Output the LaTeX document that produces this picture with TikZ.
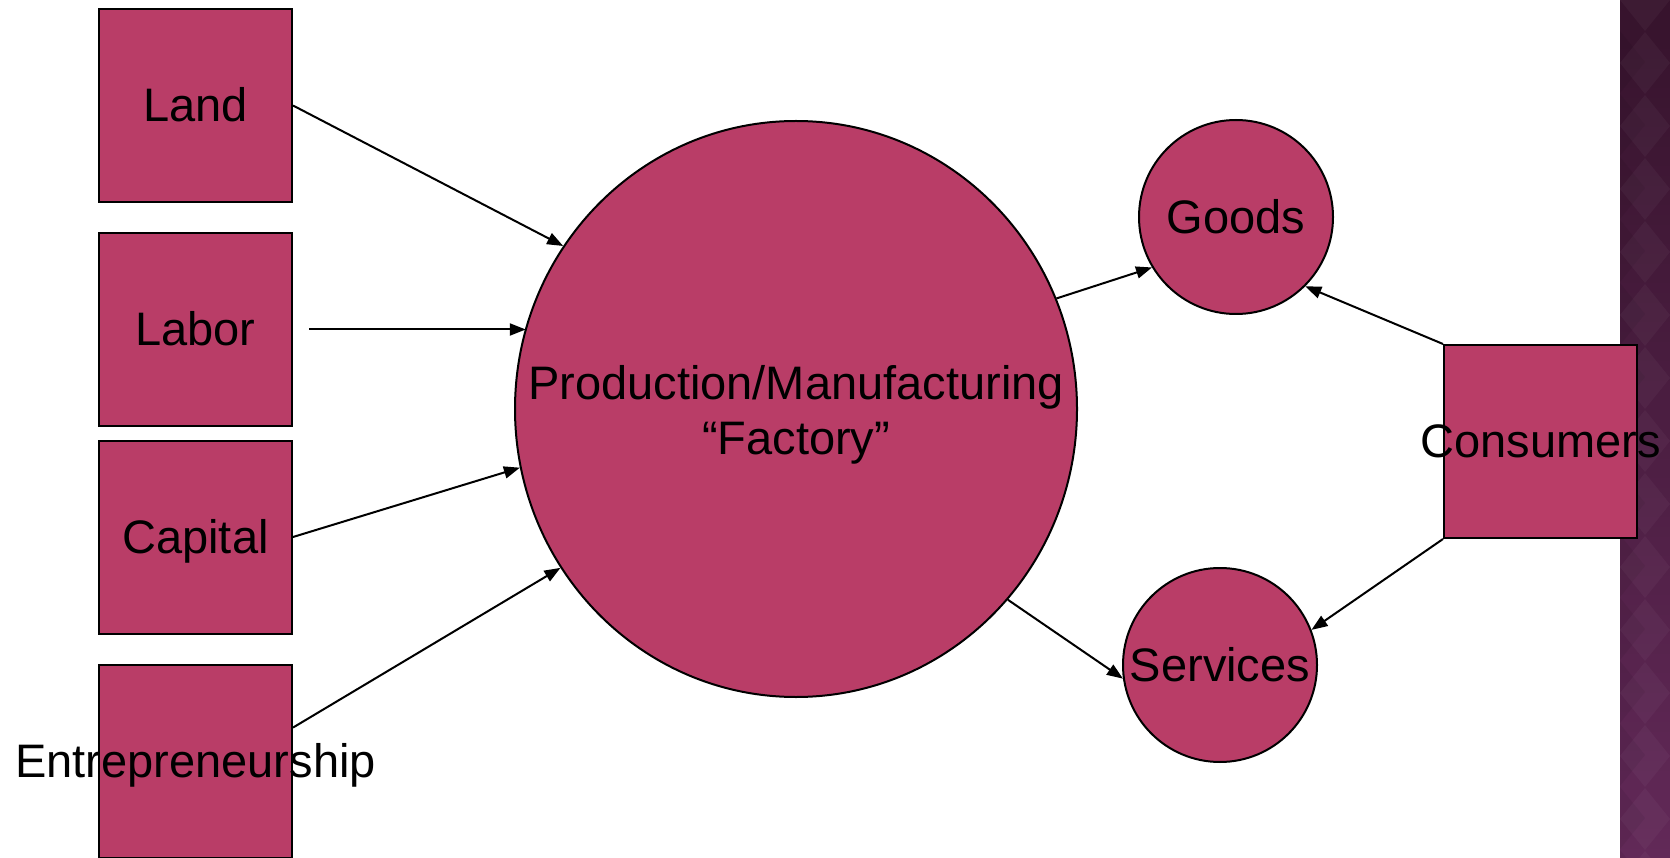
\documentclass[tikz,border=0pt]{standalone}
\usepackage{fontspec}
\setmainfont{Liberation Sans}
\usetikzlibrary{shapes.geometric,arrows.meta,calc}
\definecolor{boxfill}{RGB}{185,61,103}
\definecolor{stripetop}{RGB}{54,19,44}
\definecolor{stripebot}{RGB}{98,41,88}
\begin{document}
\begin{tikzpicture}[x=1pt,y=-1pt,
  txt/.style={font=\fontsize{47}{54}\selectfont, inner sep=0pt,
              text height=42.5pt, text depth=10pt},
  factor/.style={rectangle, draw=black, line width=2pt, fill=boxfill,
                 minimum width=193pt, minimum height=193pt, inner sep=0pt},
  disc/.style={circle, draw=black, line width=2pt, fill=boxfill,
               minimum size=194pt, inner sep=0pt},
  flow/.style={draw=black, line width=2pt, -{Triangle[length=16pt,width=12pt]}}]

\useasboundingbox (0,0) rectangle (1670,858);
\fill[white] (0,0) rectangle (1670,858);

% decorative band on the right edge
\shade[top color=stripetop, bottom color=stripebot] (1620,0) rectangle (1670,858);
\begin{scope}
  \clip (1620,0) rectangle (1670,858);
  \foreach \k in {0,...,14} {
    \fill[white, opacity=0.035] (1645,{63*\k-31}) -- (1670,{63*\k}) -- (1645,{63*\k+31}) -- (1620,{63*\k}) -- cycle;
    \fill[black, opacity=0.06] (1620,{63*\k+31}) -- (1645,{63*\k+62}) -- (1620,{63*\k+93}) -- cycle;
  }
\end{scope}

% factors of production
\node[factor, txt] (land)    at (195.5,105.5) {Land};
\node[factor, txt] (labor)   at (195.5,329.5) {Labor};
\node[factor, txt] (capital) at (195.5,537)   {Capital};
\node[factor] (ebox) at (195.5,761.5) {};
\node[txt] (etxt) at (ebox.center) {Entrepreneurship};

% production
\node[ellipse, draw=black, line width=2pt, fill=boxfill,
      minimum width=562pt, minimum height=576pt, inner sep=0pt] (factory) at (796,409) {};
\node[font=\fontsize{47}{55}\selectfont, align=center, inner sep=0pt] (ftxt)
  at ($(factory.center)+(0,6)$) {Production/Manufacturing\\“Factory”};

% outputs
\node[disc] (goods)    at (1236,217) {};
\node[txt]  (gtxt)     at (goods.center) {Goods};
\node[disc] (services) at (1220,665) {};
\node[txt]  (stxt)     at (services.center) {Services};

% consumers
\node[factor] (cbox) at (1540.5,441.5) {};
\node[txt] (ctxt) at (cbox.center) {Consumers};

% flows
\draw[flow] (land.east) -- (factory.145.5);
\draw[flow] ([xshift=16pt]labor.east) -- (labor.east -| factory.163.6);
\draw[flow] (capital.east) -- (factory.192.8);
\draw[flow] ($(ebox.north east)!0.326!(ebox.south east)$) -- (factory.214.5);
\draw[flow] (factory.23) -- (goods.211.2);
\draw[flow] (factory.318.4) -- (services.188.8);
\draw[flow] (cbox.north west) -- (goods.315);
\draw[flow] (cbox.south west) -- (services.21.6);
\end{tikzpicture}
\end{document}
